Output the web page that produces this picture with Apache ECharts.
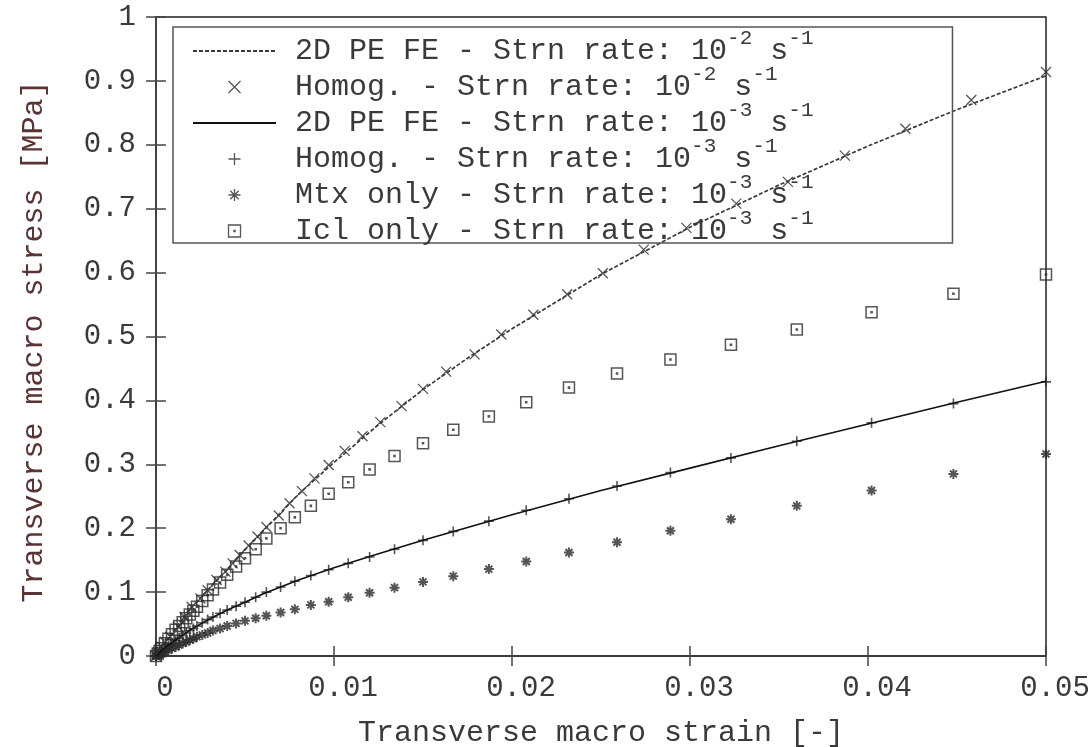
<!DOCTYPE html>
<html>
<head>
<meta charset="utf-8">
<script src="https://cdn.jsdelivr.net/npm/echarts@6/dist/echarts.min.js"></script>
<style>
    html, body { margin: 0; padding: 0; background: #fff; }
    #container { width: 1090px; height: 747px; }
</style>
</head>
<body>
<div id="container"></div>
<script>
    // 2D PE FE curves, both strain rates, read on a common strain grid
    var strainFE = [0, 0.0005, 0.001, 0.002, 0.003, 0.004, 0.005, 0.006, 0.008, 0.010, 0.0125, 0.015, 0.0175, 0.020, 0.025, 0.030, 0.035, 0.040, 0.045, 0.050];
    var stressFE2 = [0, 0.025, 0.040, 0.076, 0.106, 0.135, 0.166, 0.195, 0.253, 0.303, 0.362, 0.417, 0.466, 0.512, 0.597, 0.671, 0.737, 0.798, 0.855, 0.908];
    var stressFE3 = [0, 0.013, 0.023, 0.042, 0.058, 0.072, 0.084, 0.097, 0.119, 0.138, 0.160, 0.181, 0.201, 0.221, 0.259, 0.294, 0.329, 0.363, 0.397, 0.430];

    // Homog. 10^-2 (x markers)
    var strainHom2 = [0, 0.0001, 0.0002, 0.0003, 0.0005, 0.0008, 0.00125, 0.0016, 0.0020, 0.0025, 0.0029, 0.0034, 0.0039, 0.0043, 0.0047, 0.0052, 0.0057, 0.0062, 0.0069, 0.0075, 0.0082, 0.0089, 0.0097, 0.0106, 0.0116, 0.0126, 0.0138, 0.0150, 0.0163, 0.0179, 0.0194, 0.0212, 0.0231, 0.0251, 0.0274, 0.0298, 0.0326, 0.0355, 0.0387, 0.0421, 0.0458, 0.0500];
    var stressHom2 = [0, 0.005, 0.010, 0.015, 0.022, 0.030, 0.046, 0.061, 0.077, 0.090, 0.103, 0.119, 0.132, 0.145, 0.158, 0.173, 0.187, 0.202, 0.220, 0.239, 0.258, 0.278, 0.299, 0.321, 0.344, 0.366, 0.391, 0.418, 0.445, 0.472, 0.503, 0.534, 0.566, 0.599, 0.636, 0.670, 0.708, 0.742, 0.783, 0.825, 0.870, 0.914];

    // Homog. / Mtx only / Icl only at 10^-3 share the same strain steps
    var strainHom3 = [0, 0.0001, 0.0002, 0.0003, 0.0005, 0.0007, 0.0009, 0.0011, 0.0013, 0.0015, 0.0017, 0.0019, 0.0021, 0.0023, 0.0026, 0.0029, 0.0032, 0.0036, 0.0040, 0.0045, 0.0050, 0.0056, 0.0062, 0.0070, 0.0078, 0.0087, 0.0097, 0.0108, 0.0120, 0.0134, 0.0150, 0.0167, 0.0187, 0.0208, 0.0232, 0.0259, 0.0289, 0.0323, 0.0360, 0.0402, 0.0448, 0.0500];
    var stressHom3 = [0, 0.003, 0.005, 0.007, 0.012, 0.016, 0.020, 0.024, 0.028, 0.032, 0.036, 0.040, 0.043, 0.047, 0.052, 0.057, 0.061, 0.067, 0.072, 0.078, 0.084, 0.092, 0.100, 0.108, 0.117, 0.126, 0.135, 0.145, 0.155, 0.167, 0.181, 0.195, 0.211, 0.228, 0.246, 0.266, 0.287, 0.310, 0.336, 0.365, 0.395, 0.429];
    var stressMtx = [0, 0.002, 0.003, 0.004, 0.006, 0.009, 0.012, 0.014, 0.017, 0.020, 0.022, 0.025, 0.027, 0.030, 0.033, 0.036, 0.040, 0.043, 0.047, 0.051, 0.055, 0.059, 0.063, 0.068, 0.073, 0.080, 0.085, 0.092, 0.099, 0.107, 0.116, 0.125, 0.136, 0.148, 0.162, 0.178, 0.196, 0.214, 0.235, 0.259, 0.285, 0.316];
    var stressIcl = [0, 0.004, 0.008, 0.012, 0.020, 0.027, 0.034, 0.041, 0.047, 0.053, 0.059, 0.065, 0.071, 0.077, 0.086, 0.095, 0.104, 0.115, 0.127, 0.140, 0.153, 0.167, 0.184, 0.200, 0.217, 0.235, 0.254, 0.272, 0.292, 0.313, 0.333, 0.354, 0.375, 0.397, 0.420, 0.442, 0.464, 0.487, 0.511, 0.538, 0.567, 0.597];

    var seriesNames = ['fe2', 'hom2', 'fe3', 'hom3', 'mtx', 'icl'];
    var legendPrefix = ['2D PE FE - Strn rate: ', 'Homog. - Strn rate: ', '2D PE FE - Strn rate: ', 'Homog. - Strn rate: ', 'Mtx only - Strn rate: ', 'Icl only - Strn rate: '];
    var legendExp = ['-2', '-2', '-3', '-3', '-3', '-3'];

    function pairs(xs, ys) {
        return xs.map(function (x, i) { return [x, ys[i]]; });
    }

    var FONT = 'Liberation Mono';
    var TXT = '#3a3a3a';
    var symX = 'path://M0,0L10,10M10,0L0,10';
    var symPlus = 'path://M5,0L5,10M0,5L10,5';
    var symStar = 'path://M5,0L5,10M0,5L10,5M1.5,1.5L8.5,8.5M8.5,1.5L1.5,8.5';
    var symBox = 'path://M0,0L10,0L10,10L0,10Z M4.5,4.5L5.5,4.5L5.5,5.5L4.5,5.5Z';

    var chart = echarts.init(document.getElementById('container'));

    var markerStyle = function (w) {
        return {color: 'none', borderColor: '#2a2a2a', borderWidth: w};
    };

    // legend entries; the FE lines get no symbol in their icon
    var legendData = seriesNames.map(function (n) {
        if (n === 'fe2' || n === 'fe3') {
            return {name: n, itemStyle: {opacity: 0}};
        }
        return {name: n};
    });

    var option = {
        animation: false,
        grid: {
            left: 156, right: 44, top: 17, bottom: 91,
            outerBoundsMode: 'none',
            show: true, borderColor: '#222', borderWidth: 1.5
        },
        legend: {
            left: 173, top: 27,
            orient: 'vertical',
            padding: [1, 139, -3, 19],
            itemGap: -2,
            itemWidth: 83,
            itemHeight: 12,
            selectedMode: false,
            borderColor: '#555',
            borderWidth: 1.5,
            itemStyle: {borderWidth: 1.3},
            data: legendData,
            formatter: function (name) {
                var i = seriesNames.indexOf(name);
                return '{g|}{a|' + legendPrefix[i] + '10}{s|' + legendExp[i] + '}{a| s}{s|-1}';
            },
            textStyle: {
                rich: {
                    g: {width: 14},
                    a: {fontFamily: FONT, fontSize: 30, lineHeight: 36, color: TXT},
                    s: {fontFamily: FONT, fontSize: 21, lineHeight: 14, verticalAlign: 'top', padding: [-5, 0, 0, 0], color: TXT}
                }
            }
        },
        xAxis: [{
            type: 'value', min: 0, max: 0.05, interval: 0.01,
            name: 'Transverse macro strain [-]',
            nameLocation: 'middle', nameGap: 62,
            nameTextStyle: {fontFamily: FONT, fontSize: 30, color: TXT},
            axisLine: {show: true, lineStyle: {color: '#333', width: 1.5}},
            axisTick: {inside: true, length: 10, lineStyle: {color: '#444', width: 1.5}},
            axisLabel: {fontFamily: FONT, fontSize: 29, color: TXT, margin: 18, padding: [0, 0, 0, 18]},
            splitLine: {show: false}
        }, {
            type: 'value', min: 0, max: 0.05, interval: 0.01, position: 'top',
            axisLine: {show: false},
            axisTick: {inside: true, length: 10, lineStyle: {color: '#444', width: 1.5}},
            axisLabel: {show: false},
            splitLine: {show: false}
        }],
        yAxis: [{
            type: 'value', min: 0, max: 1, interval: 0.1,
            name: 'Transverse macro stress [MPa]',
            nameLocation: 'middle', nameGap: 107, nameRotate: 90,
            nameTextStyle: {fontFamily: FONT, fontSize: 30, color: '#5a3434', padding: [0, 10, 0, 0]},
            axisLine: {show: true, lineStyle: {color: '#444', width: 2}},
            axisTick: {inside: true, length: 10, lineStyle: {color: '#444', width: 1.5}},
            axisLabel: {fontFamily: FONT, fontSize: 29, color: TXT, margin: 20},
            splitLine: {show: false}
        }, {
            type: 'value', min: 0, max: 1, interval: 0.1, position: 'right',
            axisLine: {show: false},
            axisTick: {inside: true, length: 10, lineStyle: {color: '#444', width: 1.5}},
            axisLabel: {show: false},
            splitLine: {show: false}
        }],
        series: [
            {
                name: 'fe2', type: 'line', symbol: 'none', showSymbol: false,
                lineStyle: {color: '#3a3a3a', width: 1.7, type: [4, 2]},
                itemStyle: {color: '#3a3a3a'},
                data: pairs(strainFE, stressFE2)
            },
            {
                name: 'hom2', type: 'scatter', symbol: symX, symbolSize: 10,
                itemStyle: markerStyle(1.3),
                data: pairs(strainHom2, stressHom2)
            },
            {
                name: 'fe3', type: 'line', symbol: 'none', showSymbol: false,
                lineStyle: {color: '#111', width: 1.6},
                itemStyle: {color: '#111'},
                data: pairs(strainFE, stressFE3)
            },
            {
                name: 'hom3', type: 'scatter', symbol: symPlus, symbolSize: 10,
                itemStyle: markerStyle(1.6),
                data: pairs(strainHom3, stressHom3)
            },
            {
                name: 'mtx', type: 'scatter', symbol: symStar, symbolSize: 10,
                itemStyle: markerStyle(2),
                data: pairs(strainHom3, stressMtx)
            },
            {
                name: 'icl', type: 'scatter', symbol: symBox, symbolSize: 11,
                itemStyle: markerStyle(1.5),
                data: pairs(strainHom3, stressIcl)
            }
        ]
    };

    chart.setOption(option);
</script>
</body>
</html>
